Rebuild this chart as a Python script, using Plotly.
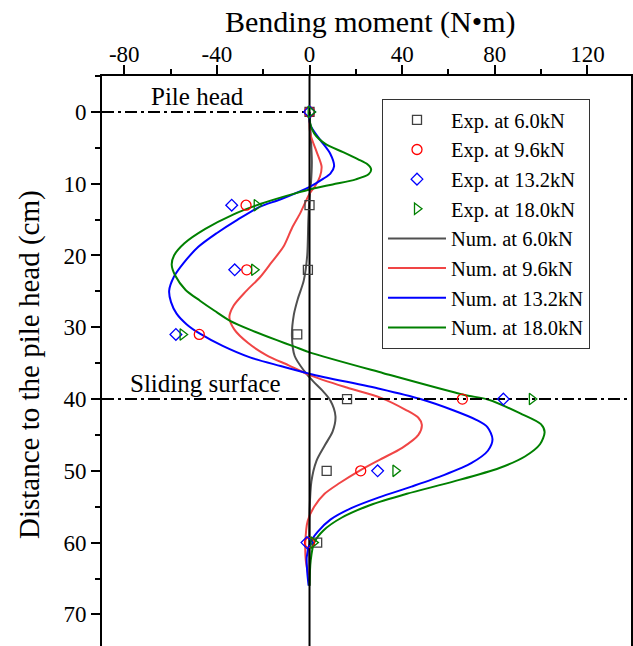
import plotly.graph_objects as go

# ---------------- data ----------------
exp_depth = [0, 13, 22, 31, 40, 50, 60]
exp_6_0 = [0, 0, -0.7, -5.3, 16.2, 7.4, 3.3]
exp_9_6 = [0, -27.4, -27.1, -47.6, 66.0, 22.1, 0]
exp_13_2 = [0, -33.6, -32.3, -57.7, 83.7, 29.4, -1.1]
exp_18_0 = [0.5, -22.8, -23.9, -54.8, 96.0, 37.1, 1.7]

num_6_0_x = [0, 0.5, 1.0, 0.6, 0, -0.5, -1.0, -2.5, -5.0, -6.8, -7.6, -6.4, -2.5, 1.5, 5.5, 9.0, 11.2, 10.0, 6.5, 3.0, 0.8, 0, 0]
num_6_0_y = [0, 3, 7, 10, 12, 15, 20, 23.5, 26, 28.3, 31.2, 34.0, 36.0, 37.5, 38.8, 40.2, 42.4, 44.5, 46.5, 48.6, 51.5, 56, 66]

num_9_6_x = [0, 0.3, 3.0, 5.2, 4.5, 2.5, 0, -4.0, -7.6, -11.3, -16.5, -21.3, -27.5, -32.8, -34.6, -32.5, -26.5, -18.5, -9.0, 0.3, 16.1, 30.6, 41.5, 47.0, 48.5, 47.0, 40.0, 30.6, 21.5, 13.0, 6.5, 2.0, -0.8, -1.8, -1.6, -0.5]
num_9_6_y = [0, 3, 5.5, 7.6, 9.0, 10.3, 11.4, 14.1, 16.2, 18.8, 21.0, 23.0, 25.0, 27.0, 28.6, 30.3, 32.2, 33.9, 35.3, 36.7, 38.4, 39.8, 41.5, 42.6, 43.6, 45.0, 46.8, 48.4, 50, 51.7, 53.2, 55, 57, 60, 62.5, 64.5]

num_13_2_x = [0, 0.3, 4.6, 8.9, 10.6, 9.0, 6.0, 0.3, -12.7, -21.3, -31.0, -40.1, -48.0, -54.5, -58.6, -60.6, -59.8, -57.4, -53.0, -47.3, -37.5, -25.7, -12.5, 0.3, 30.6, 47.9, 62.3, 72.0, 76.8, 79.0, 77.0, 70.0, 58.0, 44.0, 30.0, 18.0, 9.0, 3.5, 0.3, -1.2, -1.0, -0.4]
num_13_2_y = [0, 1.8, 3.9, 5.8, 7.6, 8.6, 9.3, 10.4, 12.2, 13.2, 15.0, 16.9, 18.8, 21.1, 23.0, 24.9, 26.5, 28.1, 29.6, 30.9, 32.6, 34.2, 35.4, 36.5, 38.6, 40, 41.6, 42.9, 43.9, 45.6, 47.2, 48.9, 50.6, 52.2, 53.7, 55.2, 56.8, 58.5, 60, 62, 64, 66]

num_18_0_x = [0, 0.2, 2.0, 7.0, 14.5, 21.0, 25.0, 26.6, 25.5, 20.0, 10.0, 0, -10.0, -21.0, -33.0, -45.0, -54.0, -58.5, -59.5, -58.0, -53.5, -47.3, -41.0, -34.3, -24.5, -14.1, -6.5, 0, 31.9, 66.5, 77.4, 91.0, 99.9, 101.5, 99.5, 93.0, 82.0, 62.0, 42.0, 26.0, 14.0, 6.0, 2.0, 0.5, 0]
num_18_0_y = [0, 1.5, 3.0, 4.5, 5.6, 6.6, 7.3, 8.0, 8.7, 9.4, 10.1, 10.8, 11.7, 12.8, 14.3, 16.3, 18.3, 20.0, 21.3, 22.8, 24.8, 26.3, 27.7, 29.1, 30.5, 31.8, 32.7, 33.5, 36.4, 39.4, 40.1, 42.0, 43.5, 44.6, 46.3, 48.0, 49.6, 51.5, 53.2, 54.8, 56.5, 58.3, 60, 62.5, 66]

pile_head_depth = 0
sliding_depth = 40
x_range = [-89.6, 138.8]
y_range = [74.4, -5.0]
x_ticks = [-80, -40, 0, 40, 80, 120]
x_tick_text = ["-80", "-40", "0", "40", "80", "120"]
y_ticks = [0, 10, 20, 30, 40, 50, 60, 70]

FONT = "Liberation Serif"
GRAY, RED, BLUE, GREEN = "#505050", "#f04545", "#0000ff", "#008000"

fig = go.Figure()

# numerical curves
for name, xs, ys, col, rank in [
    ("Num. at 6.0kN", num_6_0_x, num_6_0_y, GRAY, 5),
    ("Num. at 9.6kN", num_9_6_x, num_9_6_y, RED, 6),
    ("Num. at 13.2kN", num_13_2_x, num_13_2_y, BLUE, 7),
    ("Num. at 18.0kN", num_18_0_x, num_18_0_y, GREEN, 8),
]:
    fig.add_trace(go.Scatter(x=xs, y=ys, mode="lines", name=name, legendrank=rank,
                             line=dict(color=col, width=2, shape="spline", smoothing=0.8)))

# zero line
fig.add_trace(go.Scatter(x=[0, 0], y=[y_range[1], y_range[0]], mode="lines",
                         line=dict(color="black", width=2), showlegend=False, hoverinfo="skip"))

# reference lines
DASH = "12px,4px,3px,4px"
fig.add_trace(go.Scatter(x=[x_range[0], 0], y=[pile_head_depth, pile_head_depth], mode="lines",
                         line=dict(color="black", width=2, dash=DASH), showlegend=False, hoverinfo="skip"))
fig.add_trace(go.Scatter(x=x_range, y=[sliding_depth, sliding_depth], mode="lines",
                         line=dict(color="black", width=2, dash=DASH), showlegend=False, hoverinfo="skip"))

# experimental markers
for name, xs, col, sym, size, rank in [
    ("Exp. at 6.0kN", exp_6_0, "#404040", "square-open", 9, 1),
    ("Exp. at 9.6kN", exp_9_6, "#ff0000", "circle-open", 10, 2),
    ("Exp. at 13.2kN", exp_13_2, "#0000ff", "diamond-open", 9, 3),
    ("Exp. at 18.0kN", exp_18_0, "#008000", "triangle-right-open", 10, 4),
]:
    fig.add_trace(go.Scatter(x=xs, y=exp_depth, mode="markers", name=name, legendrank=rank,
                             marker=dict(symbol=sym, size=size, color=col, line=dict(width=1.3, color=col))))

fig.update_layout(
    width=633, height=646,
    margin=dict(l=102, r=2, t=76, b=0),
    paper_bgcolor="white", plot_bgcolor="white",
    font=dict(family=FONT, size=23, color="black"),
    legend=dict(x=(382 - 102) / 529, y=1 - (99 - 76) / 570, xanchor="left", yanchor="top",
                bgcolor="white", bordercolor="#333333", borderwidth=1,
                font=dict(family=FONT, size=20.5), itemwidth=58, tracegroupgap=0),
    xaxis=dict(side="top", range=x_range, tickvals=x_ticks, ticktext=x_tick_text, ticks="outside",
               ticklen=9, tickwidth=2, ticklabelstandoff=-6,
               tickcolor="black", showline=True, linecolor="black", linewidth=2, showgrid=False,
               zeroline=False, tickfont=dict(size=23),
               minor=dict(dtick=20, tick0=0, ticks="outside", ticklen=5, tickwidth=2, tickcolor="black")),
    yaxis=dict(range=y_range, tickvals=y_ticks, ticks="outside", ticklen=9, tickwidth=2,
               tickcolor="black", showline=True, linecolor="black", linewidth=2, mirror=True,
               showgrid=False, zeroline=False, tickfont=dict(size=23),
               minor=dict(dtick=5, tick0=0, ticks="outside", ticklen=5, tickwidth=2, tickcolor="black")),
    annotations=[
        dict(text="Bending moment (N•m)", xref="paper", yref="paper", x=(370 - 102) / 529,
             y=1 + (76 - 22) / 570, xanchor="center", yanchor="middle", showarrow=False,
             font=dict(size=30)),
        dict(text="Distance to the pile head (cm)", xref="paper", yref="paper", x=-(102 - 29) / 529,
             y=1 - (365 - 76) / 570, xanchor="center", yanchor="middle", textangle=-90,
             showarrow=False, font=dict(size=29)),
        dict(text="Pile head", x=-48.5, y=-2.1, xref="x", yref="y", showarrow=False,
             font=dict(size=25)),
        dict(text="Sliding surface", x=-45, y=37.8, xref="x", yref="y", showarrow=False,
             font=dict(size=25)),
    ],
)

fig.write_html("out.html")
